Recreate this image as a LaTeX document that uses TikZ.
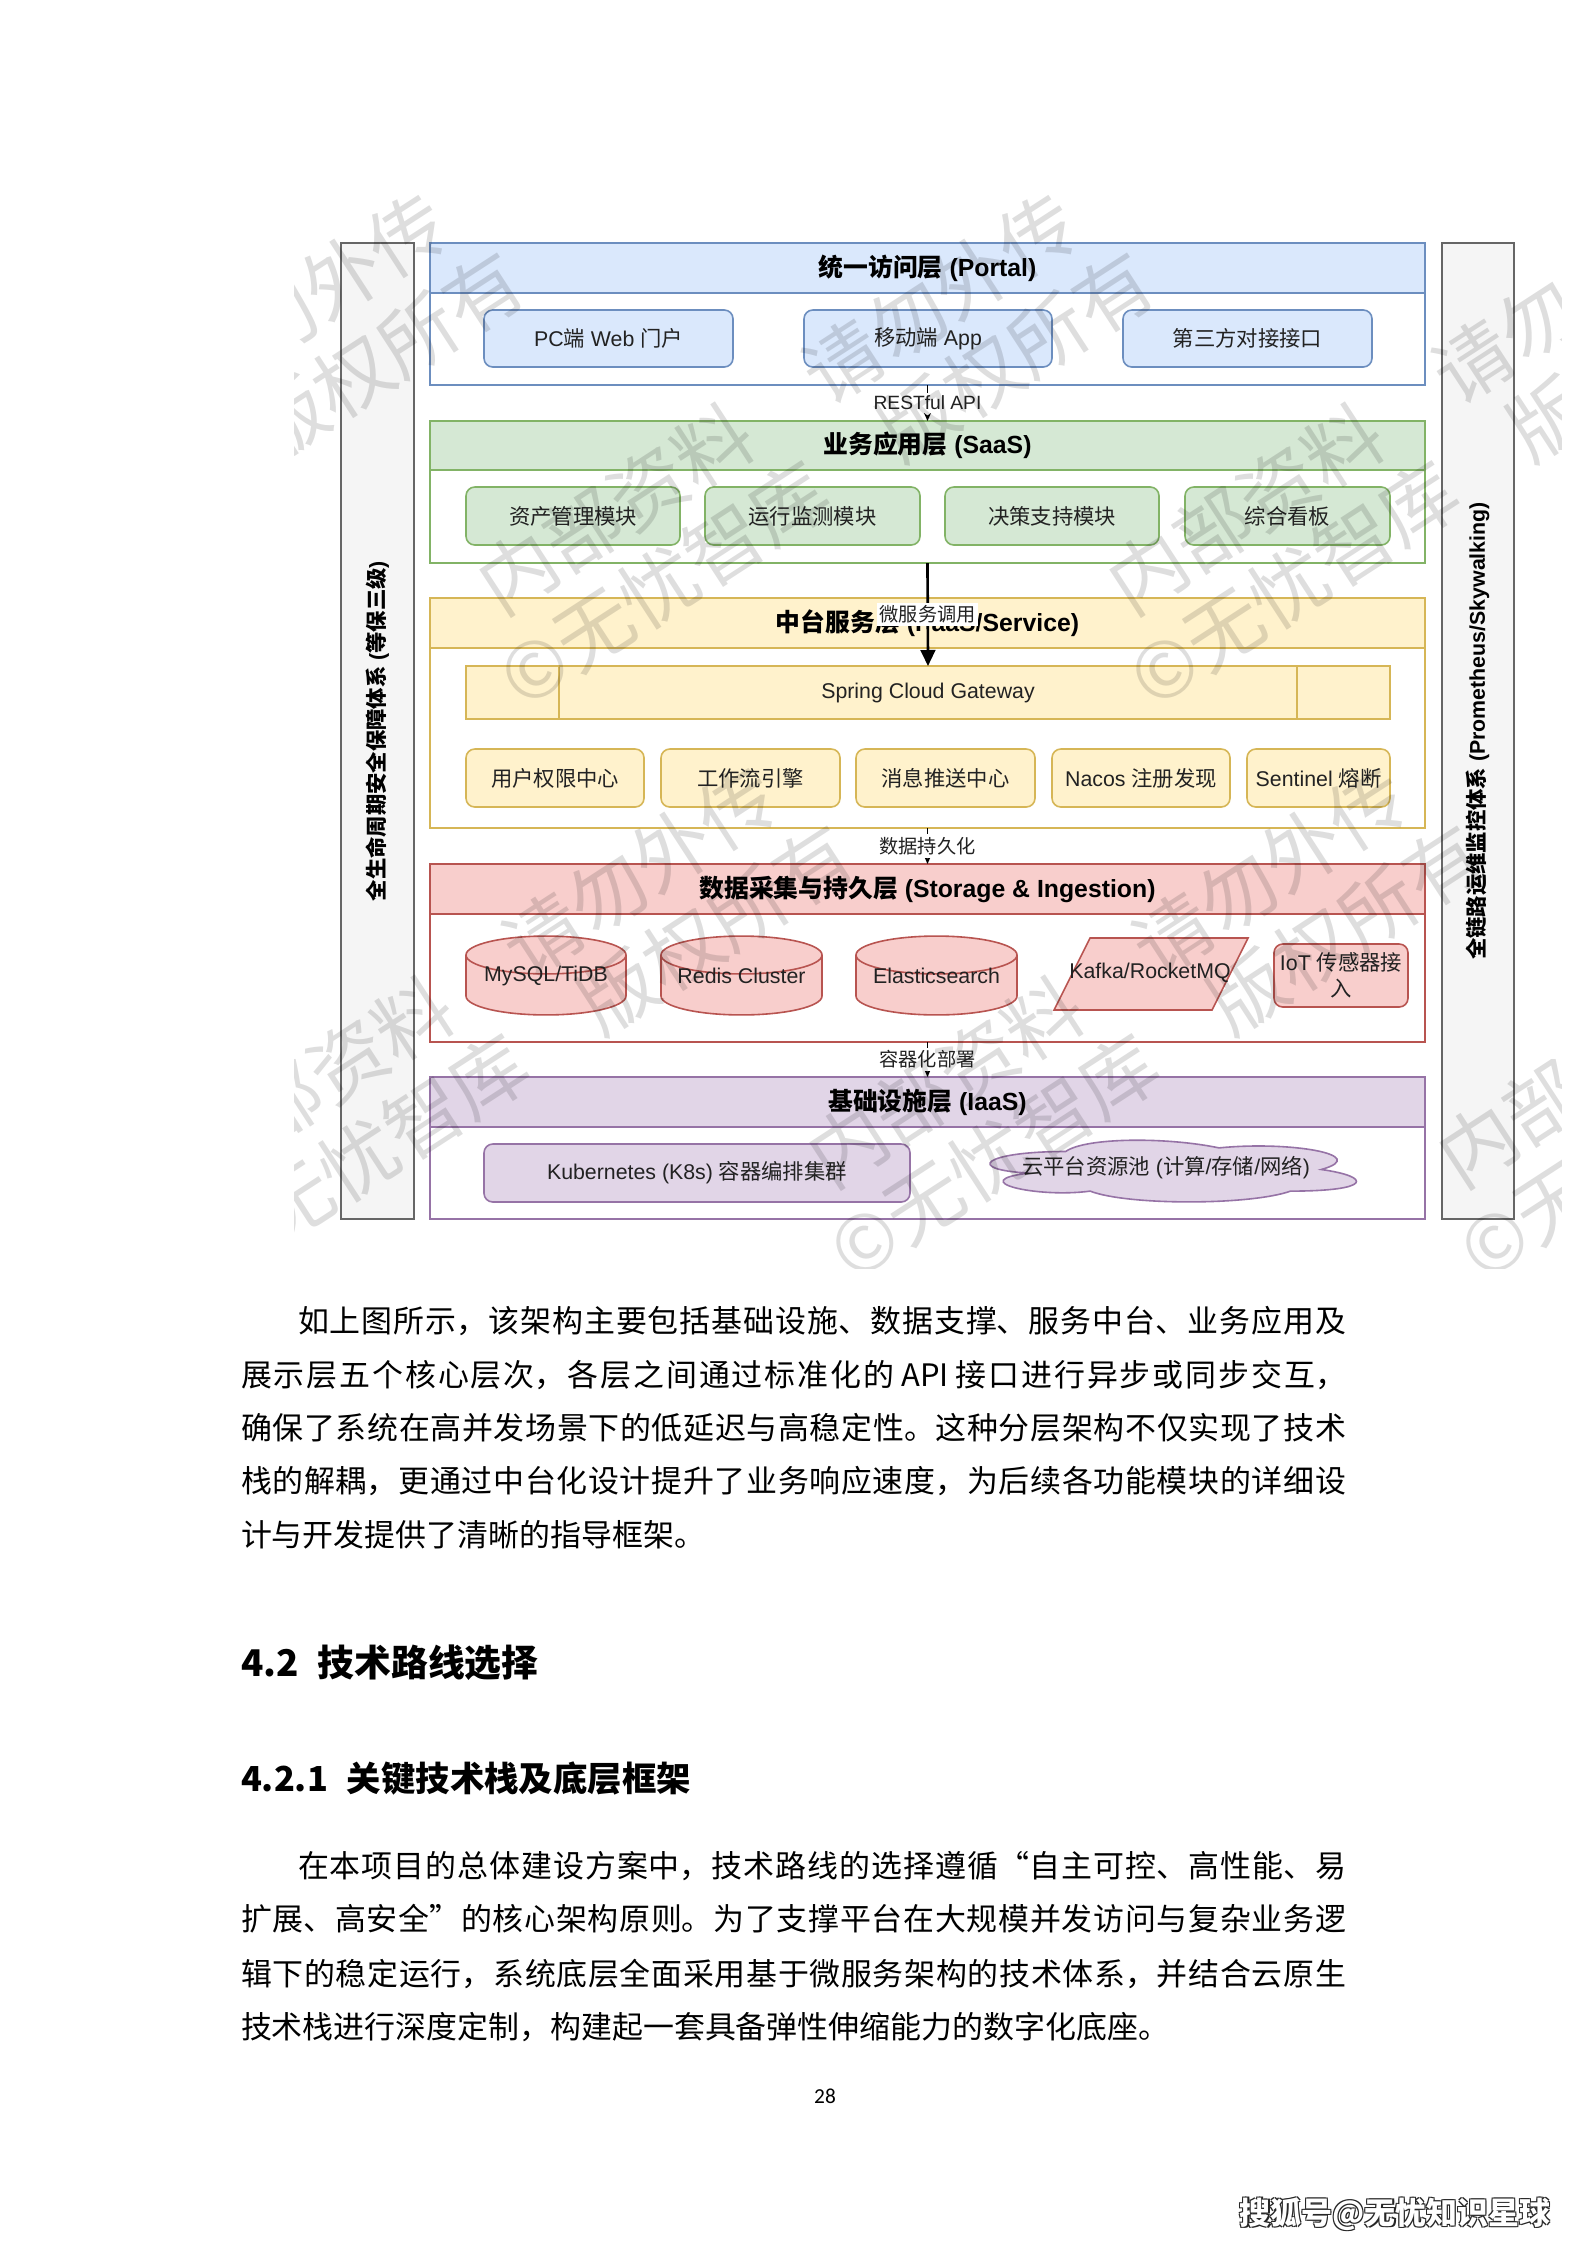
\documentclass[tikz,border=0pt]{standalone}
\usepackage{fontspec}
\setmainfont{Liberation Sans}
\newfontfamily\cjk{Noto Sans CJK SC}
\newfontfamily\pagefont{Carlito}
\usetikzlibrary{shapes.geometric,arrows.meta}
\definecolor{bluef}{HTML}{DAE8FC}\definecolor{bluel}{HTML}{6C8EBF}
\definecolor{grnf}{HTML}{D5E8D4}\definecolor{grnl}{HTML}{82B366}
\definecolor{yelf}{HTML}{FFF2CC}\definecolor{yell}{HTML}{D6B656}
\definecolor{redf}{HTML}{F8CECC}\definecolor{redl}{HTML}{B85450}
\definecolor{purf}{HTML}{E1D5E7}\definecolor{purl}{HTML}{9673A6}
\definecolor{grayf}{HTML}{F5F5F5}\definecolor{grayl}{HTML}{666666}
\definecolor{txt}{HTML}{222222}
\newcommand\C[1]{{\cjk #1}}
\newcommand\nb[7]{\node[#2,minimum width={((#5)-(#3))*0.375pt},minimum height={((#6)-(#4))*0.375pt}] (#1) at ({((#3)+(#5))/2},{((#4)+(#6))/2}) {#7};}
\newcommand\jl[2]{\parbox{#1}{\XeTeXlinebreaklocale "zh"\XeTeXlinebreakskip=0pt plus 1fil minus 1pt\relax\parfillskip=0pt\relax\noindent #2}}
\newcommand\cyl[4]{%
  \filldraw[draw=redl,fill=redf,line width=0.6pt] (#2,955) -- (#2,996)
    arc[start angle=180,end angle=360,x radius={((#3)-(#2))/2*0.375pt},y radius=7.1pt]
    -- (#3,955)
    arc[start angle=0,end angle=180,x radius={((#3)-(#2))/2*0.375pt},y radius=7.1pt] -- cycle;
  \draw[redl,line width=0.6pt] (#2,955)
    arc[start angle=180,end angle=360,x radius={((#3)-(#2))/2*0.375pt},y radius=7.1pt];
  \nb{#1}{font=\fontsize{8}{9.6}\selectfont,text=txt}{#2}{936}{#3}{1015}{#4}}
\begin{document}
\begin{tikzpicture}[x=0.375pt,y=-0.375pt,
  every node/.style={inner sep=0pt,outer sep=0pt},
  lay/.style={draw=#1,line width=0.6pt,fill=white},
  head/.style 2 args={draw=#1,fill=#2,line width=0.6pt,font=\fontsize{9.3}{11}\selectfont\bfseries,text=black},
  mod/.style 2 args={draw=#1,fill=#2,line width=0.6pt,rounded corners=3.3pt,font=\fontsize{8}{9.6}\selectfont,text=txt,align=center},
  side/.style={draw=grayl,fill=grayf,line width=0.6pt},
  sidetxt/.style={rotate=90,font=\fontsize{8}{9.6}\selectfont\bfseries,text=black},
  lbl/.style={fill=white,font=\fontsize{7.2}{8.6}\selectfont,text=txt,inner sep=1pt},
  conn/.style={line width=0.6pt,black,dashed,-{Stealth[length=3pt,width=2.6pt]}},
  body/.style={font=\cjk\fontsize{11.6}{14}\selectfont,text=black,anchor=west},
  wmark/.style={rotate=33,align=center,text=black,text opacity=0.13,
    font=\cjk\fontsize{29}{33.4}\selectfont}]
\fill[white] (0,0) rectangle (1587,2245);
\useasboundingbox (0,0) rectangle (1587,2245);

% side bars
\nb{secbar}{side}{341}{243}{414}{1219}{}
\node[sidetxt] (sectxt) at (secbar.center) {\C{全生命周期安全保障体系} (\C{等保三级})};
\nb{monbar}{side}{1442}{243}{1514}{1219}{}
\node[sidetxt] (montxt) at (monbar.center) {\C{全链路运维监控体系} (Prometheus/Skywalking)};

% Portal layer
\nb{portal}{lay=bluel}{430}{243}{1425}{385}{}
\nb{portalh}{head={bluel}{bluef}}{430}{243}{1425}{293}{\C{统一访问层} (Portal)}
\nb{pc}{mod={bluel}{bluef}}{484}{310}{733}{367}{PC\C{端} Web \C{门户}}
\nb{mob}{mod={bluel}{bluef}}{804}{310}{1052}{367}{\C{移动端} App}
\nb{third}{mod={bluel}{bluef}}{1123}{310}{1372}{367}{\C{第三方对接接口}}

% SaaS layer
\nb{saas}{lay=grnl}{430}{421}{1425}{563}{}
\nb{saash}{head={grnl}{grnf}}{430}{421}{1425}{470}{\C{业务应用层} (SaaS)}
\nb{m1}{mod={grnl}{grnf}}{466}{487}{680}{545}{\C{资产管理模块}}
\nb{m2}{mod={grnl}{grnf}}{705}{487}{920}{545}{\C{运行监测模块}}
\nb{m3}{mod={grnl}{grnf}}{945}{487}{1159}{545}{\C{决策支持模块}}
\nb{m4}{mod={grnl}{grnf}}{1185}{487}{1390}{545}{\C{综合看板}}

% PaaS layer
\nb{mid}{lay=yell}{430}{598}{1425}{828}{}
\nb{midh}{head={yell}{yelf}}{430}{598}{1425}{648}{\C{中台服务层} (PaaS/Service)}
\nb{gw}{mod={yell}{yelf},sharp corners}{466}{666}{1390}{719}{Spring Cloud Gateway}
\draw[yell,line width=0.6pt] (559,666) -- (559,719) (1297,666) -- (1297,719);
\nb{s1}{mod={yell}{yelf}}{466}{749}{644}{807}{\C{用户权限中心}}
\nb{s2}{mod={yell}{yelf}}{661}{749}{840}{807}{\C{工作流引擎}}
\nb{s3}{mod={yell}{yelf}}{856}{749}{1035}{807}{\C{消息推送中心}}
\nb{s4}{mod={yell}{yelf}}{1052}{749}{1230}{807}{Nacos \C{注册发现}}
\nb{s5}{mod={yell}{yelf}}{1247}{749}{1390}{807}{Sentinel \C{熔断}}

% Storage layer
\nb{stor}{lay=redl}{430}{864}{1425}{1042}{}
\nb{storh}{head={redl}{redf}}{430}{864}{1425}{914}{\C{数据采集与持久层} (Storage \& Ingestion)}
\cyl{mysql}{466}{626}{MySQL/TiDB}
\cyl{redis}{661}{822}{Redis Cluster}
\cyl{es}{856}{1017}{Elasticsearch}
\filldraw[draw=redl,fill=redf,line width=0.6pt] (1090,938) -- (1248,938) -- (1212,1010) -- (1054,1010) -- cycle;
\node[font=\fontsize{8}{9.6}\selectfont,text=txt] (kafka) at (1150,973) {Kafka/RocketMQ};
\nb{iot}{mod={redl}{redf}}{1274}{944}{1408}{1007}{IoT \C{传感器接}\\\C{入}}

% IaaS layer
\nb{iaas}{lay=purl}{430}{1077}{1425}{1219}{}
\nb{iaash}{head={purl}{purf}}{430}{1077}{1425}{1127}{\C{基础设施层} (IaaS)}
\nb{k8s}{mod={purl}{purf}}{484}{1144}{910}{1202}{Kubernetes (K8s) \C{容器编排集群}}
\filldraw[draw=purl,fill=purf,line width=0.6pt] (1065.65,1151.5)
  .. controls (983.85,1151.5) and (963.4,1169.5) .. (1028.84,1173.1)
  .. controls (963.4,1181.0) and (1037.0,1198.3) .. (1090.2,1191.1)
  .. controls (1127.0,1205.5) and (1249.7,1205.5) .. (1290.6,1191.1)
  .. controls (1372.4,1191.1) and (1372.4,1176.7) .. (1321.3,1169.5)
  .. controls (1372.4,1155.1) and (1290.6,1140.7) .. (1219.0,1147.9)
  .. controls (1167.9,1137.1) and (1086.1,1137.1) .. (1065.65,1151.5) -- cycle;
\node[font=\fontsize{8}{9.6}\selectfont,text=txt] (cloudn) at (1166,1168) {\C{云平台资源池} (\C{计算}/\C{存储}/\C{网络})};

% connectors
\draw[conn] (portal.south) -- (saas.north) node[midway,lbl] (restl) {RESTful API};
\draw[line width=1pt,black,-{Triangle[length=6pt,width=5.5pt]}] (saas.south) -- (gw.north)
  node[pos=0.5,lbl] (msl) {\C{微服务调用}};
\draw[conn] (mid.south) -- (stor.north) node[midway,lbl] (perl) {\C{数据持久化}};
\draw[conn] (stor.south) -- (iaas.north) node[midway,lbl] (conl) {\C{容器化部署}};

% faint diagonal watermark over the diagram
\begin{scope}
\clip (294,179) rectangle (1561,1268);
\foreach \cx/\cy [count=\k] in {172/441,802/441,1432/441,502/1014,1132/1014,1762/1014}
  \node[wmark] (wt\k) at (\cx,\cy) {内部资料　请勿外传\\©无忧智库　版权所有};
\end{scope}

% body text
\node[body] (a1) at (298,1321) {\jl{393pt}{如上图所示，该架构主要包括基础设施、数据支撑、服务中台、业务应用及}};
\node[body] (a2) at (241,1375) {\jl{414.4pt}{展示层五个核心层次，各层之间通过标准化的 API 接口进行异步或同步交互，}};
\node[body] (a3) at (241,1428) {\jl{414.4pt}{确保了系统在高并发场景下的低延迟与高稳定性。这种分层架构不仅实现了技术}};
\node[body] (a4) at (241,1481) {\jl{414.4pt}{栈的解耦，更通过中台化设计提升了业务响应速度，为后续各功能模块的详细设}};
\node[body] (a5) at (241,1535) {计与开发提供了清晰的指导框架。};

\node[anchor=west,font=\cjk\bfseries\fontsize{13.8}{16}\selectfont] (h1) at (241,1663)
  {\makebox[20.6pt][s]{4\hfil.\hfil2}\hspace{8.2pt}技术路线选择};
\node[anchor=west,font=\cjk\bfseries\fontsize{12.9}{15}\selectfont] (h2) at (241,1778)
  {\makebox[31.5pt][s]{4\hfil.\hfil2\hfil.\hfil1}\hspace{8.2pt}关键技术栈及底层框架};

\node[body] (b1) at (298,1866) {\jl{393pt}{在本项目的总体建设方案中，技术路线的选择遵循“自主可控、高性能、易}};
\node[body] (b2) at (241,1919) {\jl{414.4pt}{扩展、高安全”的核心架构原则。为了支撑平台在大规模并发访问与复杂业务逻}};
\node[body] (b3) at (241,1974) {\jl{414.4pt}{辑下的稳定运行，系统底层全面采用基于微服务架构的技术体系，并结合云原生}};
\node[body] (b4) at (241,2027) {技术栈进行深度定制，构建起一套具备弹性伸缩能力的数字化底座。};

\node[font=\pagefont\fontsize{8}{9.6}\selectfont] (pg) at (825,2096) {28};

% bottom-right mark
\foreach \dx/\dy [count=\i] in {1.3/1.3,-0.8/1.3,1.3/-0.8,-0.8/-0.8}
  \node[font=\cjk\bfseries\fontsize{11.6}{14}\selectfont,text=black!85] (wmk\i) at (1395+\dx,2214+\dy) {搜狐号@无忧知识星球};
\node[font=\cjk\bfseries\fontsize{11.6}{14}\selectfont,text=white] (wm) at (1395,2214) {搜狐号@无忧知识星球};
\end{tikzpicture}
\end{document}
